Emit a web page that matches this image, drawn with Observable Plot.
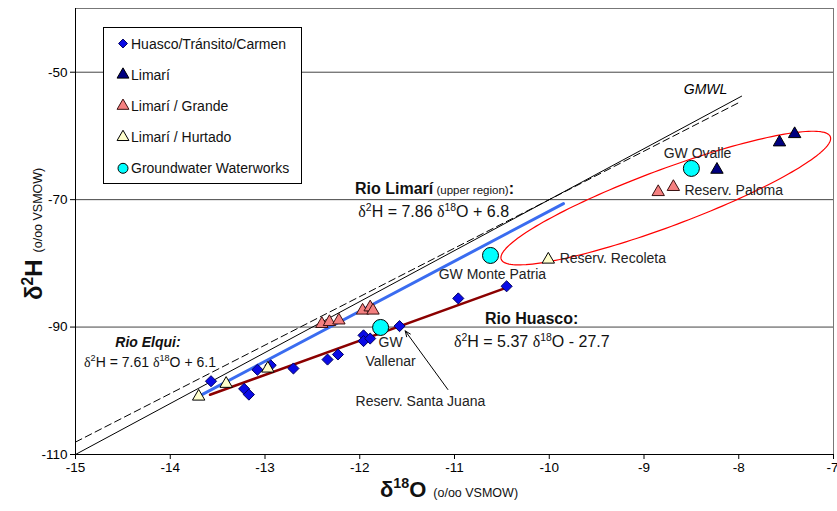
<!DOCTYPE html>
<html><head><meta charset="utf-8">
<script src="https://cdn.jsdelivr.net/npm/d3@7"></script>
<script src="https://cdn.jsdelivr.net/npm/@observablehq/plot@0.6"></script>
<style>body{margin:0;background:#fff;} #chart{position:relative;width:837px;height:511px;}</style>
</head><body><div id="chart"></div>
<script>
const FONT = "'Liberation Sans', Arial, Helvetica, sans-serif";
const SERIF = "'Liberation Serif', 'Times New Roman', serif";

// Ticks
const xTicks = [-15, -14, -13, -12, -11, -10, -9, -8, -7];
const yTicks = [-110, -90, -70, -50];
const gridY = [-90, -70, -50];

// Series: Huasco/Tránsito/Carmen (diamonds)
const huascoX = [-13.57, -13.22, -13.17, -13.08, -12.94, -12.70, -12.34, -12.23, -11.96, -11.96, -11.89, -11.58, -10.96, -10.45];
const huascoY = [-98.5, -99.7, -100.6, -96.7, -96.0, -96.5, -95.1, -94.3, -91.3, -92.2, -91.8, -89.85, -85.5, -83.6];
// Limarí (navy triangles)
const limariX = [-8.23, -7.57, -7.41];
const limariY = [-65.3, -61.0, -59.7];
// Limarí / Grande (salmon triangles)
const grandeX = [-8.85, -8.69, -12.40, -12.32, -12.22, -11.97, -11.89, -11.86];
const grandeY = [-68.8, -68.0, -89.5, -89.2, -88.95, -87.4, -86.9, -87.4];
// Limarí / Hurtado (pale yellow triangles)
const hurtadoX = [-13.70, -13.41, -12.97, -10.01];
const hurtadoY = [-100.9, -98.9, -96.5, -79.4];
// Groundwater Waterworks (cyan circles)
const gwNames = ["GW Vallenar", "GW Monte Patria", "GW Ovalle"];
const gwX = [-11.78, -10.62, -8.50];
const gwY = [-90.06, -78.76, -65.1];

// Regression / reference lines: slope, intercept, x-range
const lineNames = ["GMWL", "Rio Elqui", "Rio Limarí", "Rio Huasco"];
const lineSlopes = [8, 7.61, 7.86, 5.37];
const lineIntercepts = [10, 6.1, 6.8, -27.7];
const lineXStart = [-15, -15, -13.70, -13.58];
const lineXEnd = [-7.97, -8.0, -9.85, -10.45];

// Ellipse (grouping of Limarí upper points): center and conjugate half-axes
const ellipseCenter = [-8.77, -69.75];
const ellipseU = [1.74, 9.35];
const ellipseV = [0, 4.75];

// Labels
const midLabels = [
  {text: "GW Ovalle", x: -8.435, y: -62.8},
  {text: "GW Monte Patria", x: -10.60, y: -81.7},
  {text: "GW", x: -11.675, y: -92.5},
  {text: "Vallenar", x: -11.675, y: -95.35},
  {text: "Reserv. Santa Juana", x: -11.36, y: -101.63}
];
const startLabels = [
  {text: "Reserv. Paloma", x: -8.573, y: -68.55},
  {text: "Reserv. Recoleta", x: -9.89, y: -79.3}
];
const gmwlLabel = [{text: "GMWL", x: -8.35, y: -52.7}];
const arrowData = [{x1: -11.07, y1: -99.8, x2: -11.52, y2: -90.6}];

const mk = (xs, ys) => xs.map((x, i) => ({x, y: ys[i]}));
const lines = lineNames.map((name, i) => [lineXStart[i], lineXEnd[i]].map(x => ({name, x, y: lineSlopes[i] * x + lineIntercepts[i]})));
const ellipse = d3.range(0, 361, 2).map(d => {
  const t = d * Math.PI / 180;
  return {x: ellipseCenter[0] + ellipseU[0] * Math.cos(t) + ellipseV[0] * Math.sin(t),
          y: ellipseCenter[1] + ellipseU[1] * Math.cos(t) + ellipseV[1] * Math.sin(t)};
});

const chart = Plot.plot({
  width: 837, height: 511,
  marginLeft: 75, marginRight: 4, marginTop: 8, marginBottom: 57,
  style: {fontFamily: FONT, fontSize: "13px", background: "#fff", overflow: "visible"},
  x: {domain: [-15, -7]},
  y: {domain: [-110, -40]},
  marks: [
    Plot.ruleY(gridY, {stroke: "#444", strokeWidth: 1}),
    Plot.frame({stroke: "#777"}),
    Plot.ruleX([-15], {stroke: "#000"}),
    Plot.ruleY([-110], {stroke: "#000"}),
    Plot.line(lines[0], {x: "x", y: "y", stroke: "#000", strokeWidth: 1}),
    Plot.line(lines[1], {x: "x", y: "y", stroke: "#000", strokeWidth: 1, strokeDasharray: "7,4"}),
    Plot.line(lines[2], {x: "x", y: "y", stroke: "#3a6cf0", strokeWidth: 3}),
    Plot.line(lines[3], {x: "x", y: "y", stroke: "#8b0000", strokeWidth: 2.5}),
    Plot.line(ellipse, {x: "x", y: "y", stroke: "#ff0000", strokeWidth: 1.2}),
    Plot.dot(mk(huascoX, huascoY), {x: "x", y: "y", symbol: "diamond2", r: 5, fill: "#0a0ae6", stroke: "#000060", strokeWidth: 1}),
    Plot.dot(mk(hurtadoX, hurtadoY), {x: "x", y: "y", symbol: "triangle", r: 4.6, fill: "#ffffcc", stroke: "#000", strokeWidth: 1}),
    Plot.dot(mk(grandeX, grandeY), {x: "x", y: "y", symbol: "triangle", r: 4.6, fill: "#f48080", stroke: "#3a1010", strokeWidth: 1}),
    Plot.dot(mk(limariX, limariY), {x: "x", y: "y", symbol: "triangle", r: 4.6, fill: "#000080", stroke: "#000", strokeWidth: 1}),
    Plot.dot(gwNames.map((n, i) => ({n, x: gwX[i], y: gwY[i]})), {x: "x", y: "y", r: 8, fill: "#00ffff", stroke: "#000", strokeWidth: 1}),
    Plot.text(midLabels, {x: "x", y: "y", text: "text", textAnchor: "middle", fontSize: 14, fill: "#222"}),
    Plot.text(startLabels, {x: "x", y: "y", text: "text", textAnchor: "start", fontSize: 14, fill: "#222"}),
    Plot.text(gmwlLabel, {x: "x", y: "y", text: "text", textAnchor: "middle", fontSize: 14, fontStyle: "italic", fill: "#000"}),
    Plot.arrow(arrowData, {x1: "x1", y1: "y1", x2: "x2", y2: "y2", stroke: "#000", strokeWidth: 1, headLength: 9, headAngle: 45}),
    Plot.axisX(xTicks, {tickSize: 5, tickPadding: 3, fontSize: 13.5, label: null, tickFormat: d => String(d)}),
    Plot.axisY(yTicks, {tickSize: 5, tickPadding: 3, fontSize: 13.5, label: null, tickFormat: d => String(d)})
  ]
});
document.getElementById("chart").appendChild(chart);

const svg = d3.select(chart);
const sx = chart.scale("x"), sy = chart.scale("y");

// keep the last x tick label inside the picture
svg.selectAll("text").filter(function () { return this.textContent === "-7"; })
  .attr("text-anchor", "end").attr("dx", 5);

function rich(g, px, py, parts, size, anchor = "start", transform = null) {
  const t = g.append("text").attr("x", px).attr("y", py + 0.35 * size)
    .attr("text-anchor", anchor).attr("font-family", FONT).attr("font-size", size).attr("fill", "#111");
  if (transform) t.attr("transform", transform);
  let shifted = 0;
  for (const p of parts) {
    const s = p.size || size;
    const ts = t.append("tspan").text(p.t);
    if (p.sup) {
      const fs = (p.size || size) * 0.65;
      ts.attr("font-size", fs).attr("dy", -0.4 * size - shifted);
      shifted = -0.4 * size;
    } else {
      ts.attr("font-size", s);
      if (shifted) { ts.attr("dy", -shifted); shifted = 0; }
    }
    if (p.bold) ts.attr("font-weight", "bold");
    if (p.italic) ts.attr("font-style", "italic");
    if (p.serif) ts.attr("font-family", SERIF);
  }
  return t;
}

const eq = (a, b) => [
  {t: "δ", serif: true}, {t: "2", sup: true}, {t: "H = " + a + " "},
  {t: "δ", serif: true}, {t: "18", sup: true}, {t: "O " + b}
];

// Annotations positioned in data space
rich(svg, sx.apply(-12.045), sy.apply(-68.29), [
  {t: "Rio Limarí", bold: true}, {t: " (upper region)", size: 11.5}, {t: ":", bold: true}], 16);
rich(svg, sx.apply(-12.01), sy.apply(-71.96), eq("7.86", "+ 6.8"), 16);
rich(svg, sx.apply(-10.673), sy.apply(-88.7), [{t: "Rio Huasco:", bold: true}], 16);
rich(svg, sx.apply(-11.0), sy.apply(-92.37), eq("5.37", "- 27.7"), 16);
rich(svg, sx.apply(-14.23), sy.apply(-92.37), [{t: "Rio Elqui:", bold: true, italic: true}], 14, "middle");
rich(svg, sx.apply(-14.905), sy.apply(-95.51), eq("7.61", "+ 6.1"), 14);

// Axis titles
rich(svg, 380, 489, [{t: "δ", bold: true}, {t: "18", sup: true, bold: true}, {t: "O", bold: true},
  {t: "  (o/oo VSMOW)", size: 12.5}], 22);
rich(svg, 0, 0, [{t: "δ", bold: true}, {t: "2", sup: true, bold: true}, {t: "H", bold: true},
  {t: "  (o/oo VSMOW)", size: 12.5}], 24, "start", "translate(34,300) rotate(-90)");

// Legend box
const lg = svg.append("g").attr("transform", "translate(103.5,27.5)");
lg.append("rect").attr("width", 198).attr("height", 156).attr("fill", "#fff").attr("stroke", "#000");
const legendItems = [
  {label: "Huasco/Tránsito/Carmen", sym: d3.symbolDiamond2, r: 4, fill: "#0a0ae6", stroke: "#000060"},
  {label: "Limarí", sym: d3.symbolTriangle, r: 4.4, fill: "#000080", stroke: "#000"},
  {label: "Limarí / Grande", sym: d3.symbolTriangle, r: 4.4, fill: "#f48080", stroke: "#3a1010"},
  {label: "Limarí / Hurtado", sym: d3.symbolTriangle, r: 4.4, fill: "#ffffcc", stroke: "#000"},
  {label: "Groundwater Waterworks", sym: d3.symbolCircle, r: 5, fill: "#00ffff", stroke: "#000"}
];
legendItems.forEach((it, i) => {
  const cy = 16 + i * 31.2;
  lg.append("path").attr("transform", `translate(19.5,${cy})`)
    .attr("d", d3.symbol(it.sym, Math.PI * it.r * it.r)())
    .attr("fill", it.fill).attr("stroke", it.stroke);
  lg.append("text").attr("x", 27.5).attr("y", cy + 5).attr("font-family", FONT)
    .attr("text-anchor", "start")
    .attr("font-size", 14).attr("fill", "#111").text(it.label);
});
</script>
</body></html>
